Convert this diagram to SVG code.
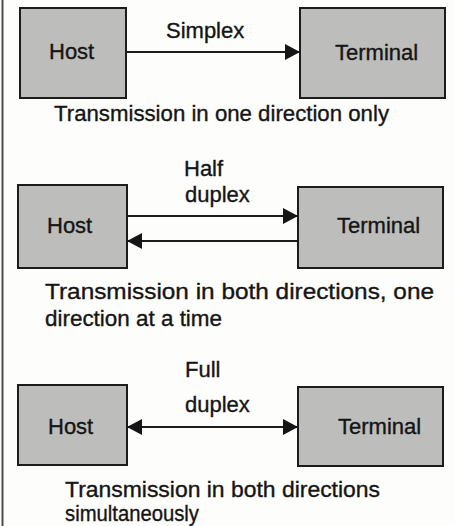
<svg xmlns="http://www.w3.org/2000/svg" width="455" height="526" viewBox="0 0 455 526">
<defs>
<style>
.box{fill:#bdbdbb;stroke:#1c1c1c;stroke-width:2}
.lbl{font-family:"Liberation Sans",Arial,sans-serif;font-size:22px;fill:#151515;stroke:#151515;stroke-width:0.35}
.ln{stroke:#1c1c1c;stroke-width:2;fill:none}
</style>
<marker id="ah" viewBox="0 0 15 16" refX="15" refY="8" markerWidth="15" markerHeight="16" markerUnits="userSpaceOnUse" orient="auto-start-reverse">
<path d="M0,0 L15,8 L0,16 Z" fill="#151515"/>
</marker>
</defs>
<rect x="0" y="0" width="455" height="526" fill="#fdfdfb"/>
<line x1="2.5" y1="0" x2="2.5" y2="526" stroke="#4a4a4a" stroke-width="2"/>

<g id="host1"><rect class="box" x="20" y="8" width="106" height="90"/><text class="lbl" x="49" y="59">Host</text></g>
<g id="terminal1"><rect class="box" x="300" y="8" width="145" height="90"/><text class="lbl" x="335" y="60">Terminal</text></g>
<g id="host2"><rect class="box" x="18" y="185" width="109" height="83"/><text class="lbl" x="47" y="233">Host</text></g>
<g id="terminal2"><rect class="box" x="298" y="187" width="145" height="81"/><text class="lbl" x="337" y="233">Terminal</text></g>
<g id="host3"><rect class="box" x="18" y="385" width="109" height="80"/><text class="lbl" x="48" y="434">Host</text></g>
<g id="terminal3"><rect class="box" x="298" y="387" width="145" height="79"/><text class="lbl" x="338" y="434">Terminal</text></g>

<g id="connectors">
<line class="ln" x1="126" y1="52" x2="300" y2="52" marker-end="url(#ah)"/>
<line class="ln" x1="127" y1="216" x2="298" y2="216" marker-end="url(#ah)"/>
<line class="ln" x1="298" y1="241" x2="127" y2="241" marker-end="url(#ah)"/>
<line class="ln" x1="127" y1="427" x2="298" y2="427" marker-start="url(#ah)" marker-end="url(#ah)"/>
</g>

<g id="labels">
<text class="lbl" x="166" y="38">Simplex</text>
<text class="lbl" x="54" y="121" textLength="335" lengthAdjust="spacingAndGlyphs">Transmission in one direction only</text>
<text class="lbl" x="184" y="176">Half</text>
<text class="lbl" x="185" y="202">duplex</text>
<text class="lbl" x="45" y="299" textLength="389" lengthAdjust="spacingAndGlyphs">Transmission in both directions, one</text>
<text class="lbl" x="45" y="326" textLength="177" lengthAdjust="spacingAndGlyphs">direction at a time</text>
<text class="lbl" x="185" y="377">Full</text>
<text class="lbl" x="185" y="412">duplex</text>
<text class="lbl" x="65" y="497" textLength="315" lengthAdjust="spacingAndGlyphs">Transmission in both directions</text>
<text class="lbl" x="65" y="521" textLength="134" lengthAdjust="spacingAndGlyphs">simultaneously</text>
</g>
</svg>
